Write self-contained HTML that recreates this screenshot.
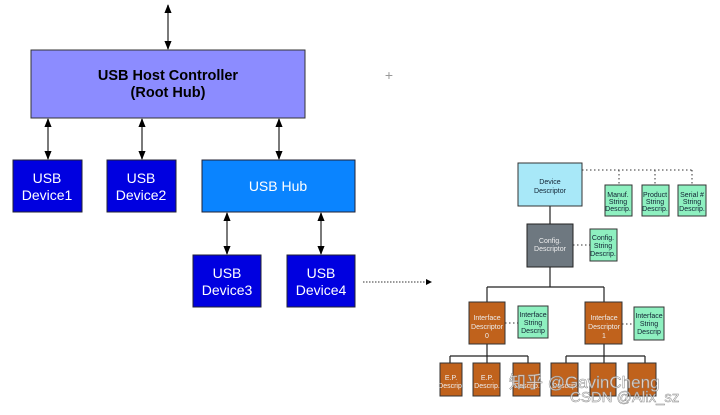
<!DOCTYPE html>
<html><head><meta charset="utf-8"><style>
body{margin:0;background:#fff;width:720px;height:410px;overflow:hidden;font-family:"Liberation Sans","Noto Sans CJK SC",sans-serif}
</style></head><body>
<svg width="720" height="410" xmlns="http://www.w3.org/2000/svg" font-family="Liberation Sans, Noto Sans CJK SC, sans-serif">
<defs><marker id="a" viewBox="0 0 10 10" refX="9" refY="5" markerWidth="7" markerHeight="7" orient="auto-start-reverse"><path d="M0,1L10,5L0,9z" fill="#000"/></marker></defs>
<g stroke="#333" stroke-width="1.3" marker-start="url(#a)" marker-end="url(#a)">
<line x1="168" y1="5" x2="168" y2="49"/>
<line x1="48" y1="119" x2="48" y2="159"/>
<line x1="142" y1="119" x2="142" y2="159"/>
<line x1="279" y1="119" x2="279" y2="159"/>
<line x1="227" y1="213" x2="227" y2="254"/>
<line x1="321" y1="213" x2="321" y2="254"/>
</g>
<rect x="31" y="50" width="274" height="68" fill="#8c8cff" stroke="#333" stroke-width="1"/>
<text x="168" y="80" text-anchor="middle" font-size="14.5" font-weight="bold">USB Host Controller</text>
<text x="168" y="97" text-anchor="middle" font-size="14.5" font-weight="bold">(Root Hub)</text>
<g fill="#0000e0" stroke="#223"><rect x="13" y="160" width="69" height="52"/><rect x="107" y="160" width="69" height="52"/><rect x="193" y="255" width="68" height="52"/><rect x="287" y="255" width="68" height="52"/></g>
<rect x="202" y="160" width="153" height="52" fill="#0a84ff" stroke="#223"/>
<g fill="#fff" font-size="14" text-anchor="middle">
<text x="47" y="183">USB</text><text x="47" y="200">Device1</text>
<text x="141" y="183">USB</text><text x="141" y="200">Device2</text>
<text x="278" y="191">USB Hub</text>
<text x="227" y="278">USB</text><text x="227" y="295">Device3</text>
<text x="321" y="278">USB</text><text x="321" y="295">Device4</text>
</g>
<line x1="363" y1="282" x2="426" y2="282" stroke="#333" stroke-dasharray="1.5,1.5"/>
<path d="M426,279L432,282L426,285z" fill="#000"/>
<text x="389" y="80" text-anchor="middle" font-size="14" fill="#999">+</text>
<g stroke="#333" stroke-dasharray="1.5,2.5" fill="none">
<path d="M582,170H692M619,170V185M655,170V185M692,170V185"/>
<path d="M573,245H590M505,323H518M622,324H634"/>
</g>
<g stroke="#222" fill="none" stroke-width="1.2">
<path d="M550,206V224M550,267V287M487,287H604M487,287V302M604,287V302"/>
<path d="M487,344V356M450,356H528M450,356V363M487,356V363M528,356V363"/>
<path d="M604,344V356M566,356H645M566,356V363M604,356V363M645,356V363"/>
</g>
<rect x="518" y="163" width="64" height="43" fill="#a8e8f8" stroke="#333"/>
<rect x="527" y="224" width="46" height="43" fill="#6e7880" stroke="#222"/>
<g fill="#8ef0c0" stroke="#333"><rect x="605" y="185" width="27" height="31"/><rect x="642" y="185" width="27" height="31"/><rect x="678" y="185" width="28" height="31"/><rect x="590" y="229" width="27" height="32"/><rect x="518" y="306" width="30" height="32"/><rect x="634" y="307" width="30" height="33"/></g>
<g fill="#c0621c" stroke="#333"><rect x="469" y="302" width="36" height="42"/><rect x="585" y="302" width="37" height="42"/>
<rect x="440" y="363" width="22" height="33"/><rect x="473" y="363" width="27" height="33"/><rect x="513" y="363" width="27" height="33"/><rect x="551" y="363" width="27" height="33"/><rect x="590" y="363" width="26" height="33"/><rect x="628" y="363" width="28" height="33"/></g>
<g font-size="7" text-anchor="middle" fill="#123">
<text x="550" y="184">Device</text><text x="550" y="193">Descriptor</text>
<text x="618" y="197">Manuf.</text><text x="618" y="204">String</text><text x="618" y="211">Descrip.</text>
<text x="655" y="197">Product</text><text x="655" y="204">String</text><text x="655" y="211">Descrip.</text>
<text x="692" y="197">Serial #</text><text x="692" y="204">String</text><text x="692" y="211">Descrip.</text>
<text x="603" y="240">Config.</text><text x="603" y="248">String</text><text x="603" y="256">Descrip.</text>
<text x="533" y="317">Interface</text><text x="533" y="325">String</text><text x="533" y="333">Descrip</text>
<text x="649" y="318">Interface</text><text x="649" y="326">String</text><text x="649" y="334">Descrip</text>
</g>
<g font-size="7" text-anchor="middle" fill="#eee">
<text x="550" y="243">Config.</text><text x="550" y="251">Descriptor</text>
<text x="487" y="320">Interface</text><text x="487" y="329">Descriptor</text><text x="487" y="338">0</text>
<text x="604" y="320">Interface</text><text x="604" y="329">Descriptor</text><text x="604" y="338">1</text>
<text x="451" y="380">E.P.</text><text x="451" y="388">Descrip.</text>
<text x="487" y="380">E.P.</text><text x="487" y="388">Descrip.</text>
<text x="527" y="388">Descrip.</text><text x="565" y="388">Descrip.</text>
</g>
<g fill="#fff" fill-opacity="0.75" stroke="#888" stroke-width="0.5" font-size="17">
<text x="509" y="388">知乎 @GavinCheng</text>
<text x="570" y="402" font-size="15">CSDN @Alix_sz</text>
</g>
</svg>
</body></html>
